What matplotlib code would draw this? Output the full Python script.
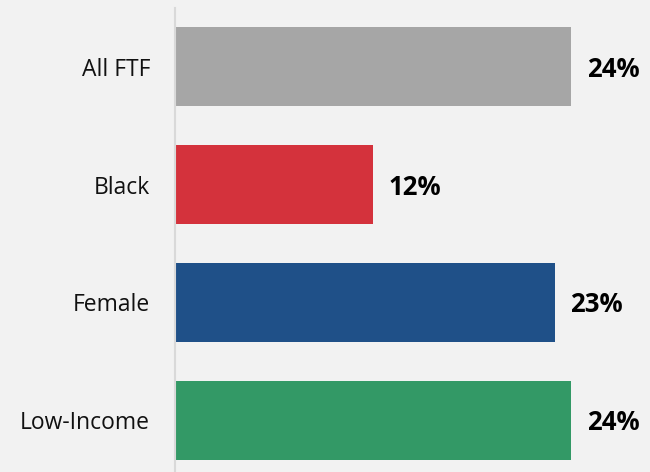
import matplotlib
matplotlib.use("Agg")
import matplotlib.pyplot as plt

categories = ["All FTF", "Black", "Female", "Low-Income"]
values = [24, 12, 23, 24]
labels = ["24%", "12%", "23%", "24%"]
colors = ["#a6a6a6", "#d4323c", "#1f5088", "#339966"]

bg = "#f2f2f2"
plt.rcParams['font.family'] = ['Open Sans', 'DejaVu Sans']

fig = plt.figure(figsize=(6.5, 4.72), dpi=100, facecolor=bg)
ax = fig.add_axes([175/650, 0, 475/650, 464/472])
ax.set_facecolor(bg)

pos = list(range(len(categories)))
ax.barh(pos, values, height=0.67, color=colors)
ax.set_ylim(3.44, -0.5)
ax.set_xlim(0, 475/16.5)

for p, v, l in zip(pos, values, labels):
    ax.text(v + 0.95, p + 0.02, l, va="center", ha="left", fontsize=18.5,
            fontweight="bold", color="black")

ax.set_yticks(pos)
ax.set_yticklabels(categories, fontsize=16.5, color="#111111")
ax.tick_params(axis="y", length=0, pad=18)
ax.set_xticks([])
for s in ["top", "right", "bottom"]:
    ax.spines[s].set_visible(False)
ax.spines["left"].set_color("#d9d9d9")
ax.spines["left"].set_linewidth(1.5)

fig.savefig("out.png", dpi=100, facecolor=bg)
